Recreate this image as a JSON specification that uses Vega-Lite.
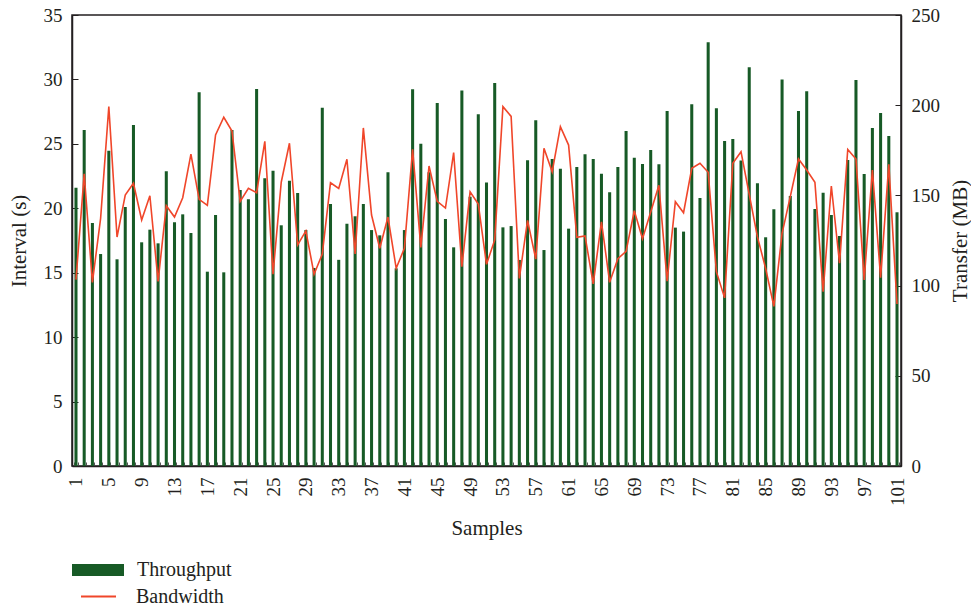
{
  "$schema": "https://vega.github.io/schema/vega-lite/v6.json",
  "width": 829,
  "height": 451,
  "autosize": {"type": "none"},
  "padding": {"left": 72, "top": 15, "right": 70, "bottom": 144},
  "background": "white",
  "config": {
    "font": "Liberation Serif",
    "view": {"stroke": "#231f20", "strokeWidth": 1.5},
    "axis": {
      "labelFont": "Liberation Serif",
      "titleFont": "Liberation Serif",
      "labelColor": "#231f20",
      "titleColor": "#231f20",
      "domainColor": "#231f20",
      "domainWidth": 1.5,
      "tickColor": "#231f20",
      "grid": false,
      "labelFontSize": 19,
      "titleFontSize": 21,
      "titleFontWeight": "normal"
    },
    "legend": {
      "labelFont": "Liberation Serif",
      "labelFontSize": 20,
      "labelColor": "#231f20",
      "padding": 0
    }
  },
  "data": {
    "values": [
      {"s": 1, "t": 21.6, "b": 103.3},
      {"s": 2, "t": 26.07, "b": 161.9},
      {"s": 3, "t": 18.86, "b": 101.8},
      {"s": 4, "t": 16.45, "b": 137.3},
      {"s": 5, "t": 24.47, "b": 199.2},
      {"s": 6, "t": 16.04, "b": 126.9},
      {"s": 7, "t": 20.1, "b": 150.2},
      {"s": 8, "t": 26.46, "b": 156.7},
      {"s": 9, "t": 17.36, "b": 136.4},
      {"s": 10, "t": 18.34, "b": 149.8},
      {"s": 11, "t": 17.28, "b": 102.3},
      {"s": 12, "t": 22.87, "b": 144.3},
      {"s": 13, "t": 18.91, "b": 138},
      {"s": 14, "t": 19.53, "b": 148.7},
      {"s": 15, "t": 18.08, "b": 172.9},
      {"s": 16, "t": 29.0, "b": 147.8},
      {"s": 17, "t": 15.08, "b": 144.5},
      {"s": 18, "t": 19.48, "b": 183.5},
      {"s": 19, "t": 15.03, "b": 193.3},
      {"s": 20, "t": 26.07, "b": 185.7},
      {"s": 21, "t": 21.42, "b": 146.7},
      {"s": 22, "t": 20.7, "b": 153.9},
      {"s": 23, "t": 29.26, "b": 151.5},
      {"s": 24, "t": 22.33, "b": 180},
      {"s": 25, "t": 22.92, "b": 106.3},
      {"s": 26, "t": 18.68, "b": 157.3},
      {"s": 27, "t": 22.14, "b": 178.9},
      {"s": 28, "t": 21.19, "b": 122.5},
      {"s": 29, "t": 18.31, "b": 130.3},
      {"s": 30, "t": 15.37, "b": 106.3},
      {"s": 31, "t": 27.81, "b": 117.5},
      {"s": 32, "t": 20.33, "b": 157},
      {"s": 33, "t": 16.0, "b": 153.9},
      {"s": 34, "t": 18.8, "b": 170},
      {"s": 35, "t": 19.38, "b": 117.5},
      {"s": 36, "t": 20.33, "b": 187.4},
      {"s": 37, "t": 18.31, "b": 139.1},
      {"s": 38, "t": 17.9, "b": 120.7},
      {"s": 39, "t": 22.79, "b": 138},
      {"s": 40, "t": 15.34, "b": 109.6},
      {"s": 41, "t": 18.31, "b": 120.7},
      {"s": 42, "t": 29.23, "b": 175.5},
      {"s": 43, "t": 25.01, "b": 121.2},
      {"s": 44, "t": 22.8, "b": 166.3},
      {"s": 45, "t": 28.17, "b": 146.7},
      {"s": 46, "t": 19.17, "b": 143},
      {"s": 47, "t": 16.97, "b": 173.7},
      {"s": 48, "t": 29.15, "b": 110.5},
      {"s": 49, "t": 20.9, "b": 152},
      {"s": 50, "t": 27.29, "b": 145.2},
      {"s": 51, "t": 22.01, "b": 111.8},
      {"s": 52, "t": 29.72, "b": 125.3},
      {"s": 53, "t": 18.52, "b": 199.2},
      {"s": 54, "t": 18.62, "b": 193.8},
      {"s": 55, "t": 15.99, "b": 104},
      {"s": 56, "t": 23.72, "b": 136.2},
      {"s": 57, "t": 26.83, "b": 114.7},
      {"s": 58, "t": 16.76, "b": 176.1},
      {"s": 59, "t": 23.82, "b": 163.1},
      {"s": 60, "t": 23.07, "b": 188.1},
      {"s": 61, "t": 18.42, "b": 177.9},
      {"s": 62, "t": 23.2, "b": 126.8},
      {"s": 63, "t": 24.19, "b": 127.5},
      {"s": 64, "t": 23.82, "b": 100.9},
      {"s": 65, "t": 22.68, "b": 135.4},
      {"s": 66, "t": 21.24, "b": 101.8},
      {"s": 67, "t": 23.2, "b": 114.9},
      {"s": 68, "t": 26.0, "b": 119},
      {"s": 69, "t": 23.93, "b": 141.5},
      {"s": 70, "t": 23.44, "b": 126},
      {"s": 71, "t": 24.52, "b": 140.8},
      {"s": 72, "t": 23.41, "b": 155.6},
      {"s": 73, "t": 27.55, "b": 102.5},
      {"s": 74, "t": 18.5, "b": 146.5},
      {"s": 75, "t": 18.19, "b": 140.4},
      {"s": 76, "t": 28.07, "b": 165},
      {"s": 77, "t": 20.8, "b": 167.8},
      {"s": 78, "t": 32.88, "b": 162.8},
      {"s": 79, "t": 27.76, "b": 107.7},
      {"s": 80, "t": 25.22, "b": 93.2},
      {"s": 81, "t": 25.38, "b": 167.8},
      {"s": 82, "t": 23.7, "b": 174.2},
      {"s": 83, "t": 30.94, "b": 150.6},
      {"s": 84, "t": 21.94, "b": 127},
      {"s": 85, "t": 17.75, "b": 109.5},
      {"s": 86, "t": 19.92, "b": 88.5},
      {"s": 87, "t": 30.0, "b": 129},
      {"s": 88, "t": 20.95, "b": 149.3},
      {"s": 89, "t": 27.55, "b": 170.2},
      {"s": 90, "t": 29.08, "b": 164.1},
      {"s": 91, "t": 19.94, "b": 157.3},
      {"s": 92, "t": 21.21, "b": 96.6},
      {"s": 93, "t": 19.48, "b": 155.2},
      {"s": 94, "t": 17.85, "b": 112.4},
      {"s": 95, "t": 23.75, "b": 175.5},
      {"s": 96, "t": 29.95, "b": 170.2},
      {"s": 97, "t": 22.66, "b": 103.1},
      {"s": 98, "t": 26.23, "b": 164.1},
      {"s": 99, "t": 27.39, "b": 104.4},
      {"s": 100, "t": 25.61, "b": 167.2},
      {"s": 101, "t": 19.69, "b": 89.8}
    ]
  },
  "encoding": {
    "x": {
      "field": "s",
      "type": "ordinal",
      "scale": {"paddingInner": 0.63, "paddingOuter": 0.3},
      "axis": {
        "title": "Samples",
        "labelAngle": -90,
        "labelOverlap": false,
        "labelExpr": "(datum.value - 1) % 4 === 0 ? datum.label : ''",
        "tickBand": "extent",
        "tickSize": -4,
        "tickColor": "#555555",
        "labelPadding": 15,
        "titlePadding": 12
      }
    }
  },
  "layer": [
    {
      "mark": {"type": "bar"},
      "encoding": {
        "y": {
          "field": "t",
          "type": "quantitative",
          "scale": {"domain": [0, 35], "nice": false},
          "axis": {
            "title": "Interval (s)",
            "values": [0, 5, 10, 15, 20, 25, 30, 35],
            "tickSize": -6,
            "labelPadding": 16,
            "titlePadding": 14
          }
        },
        "fill": {
          "datum": "Throughput",
          "type": "nominal",
          "scale": {"range": ["#175a26"]},
          "legend": {
            "title": null,
            "orient": "none",
            "legendX": 0,
            "legendY": 529,
            "symbolType": "M-1,-0.23H1V0.23H-1Z",
            "symbolSize": 2704,
            "symbolStrokeWidth": 0,
            "labelOffset": 13
          }
        }
      }
    },
    {
      "mark": {"type": "line", "strokeWidth": 1.6},
      "encoding": {
        "y": {
          "field": "b",
          "type": "quantitative",
          "scale": {"domain": [0, 250], "nice": false},
          "axis": {
            "orient": "right",
            "title": "Transfer (MB)",
            "titleAngle": -90,
            "values": [0, 50, 100, 150, 200, 250],
            "tickSize": -6,
            "labelPadding": 16,
            "titlePadding": 31
          }
        },
        "stroke": {
          "datum": "Bandwidth",
          "type": "nominal",
          "scale": {"range": ["#f0462a"]},
          "legend": {
            "title": null,
            "orient": "none",
            "legendX": 8,
            "legendY": 563,
            "symbolType": "stroke",
            "symbolSize": 1225,
            "symbolStrokeWidth": 2,
            "labelOffset": 19
          }
        }
      }
    }
  ],
  "resolve": {"scale": {"y": "independent", "fill": "independent", "stroke": "independent"}}
}
